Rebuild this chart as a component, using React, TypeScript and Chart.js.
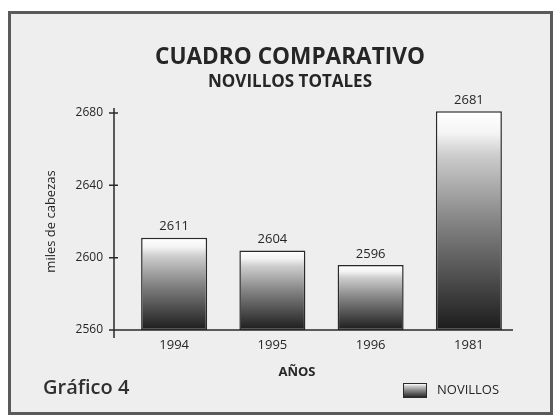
import React, { useEffect, useRef } from 'react';
import { Chart, registerables } from 'chart.js';

Chart.register(...registerables);

const categories = ['1994', '1995', '1996', '1981'];
const novillos = [2611, 2604, 2596, 2681];
const yMin = 2560;
const yMax = 2680;
const yStep = 40;
const titleText = 'CUADRO COMPARATIVO';
const subtitleText = 'NOVILLOS TOTALES';
const yAxisTitle = 'miles de cabezas';
const xAxisTitle = 'AÑOS';
const figureLabel = 'Gráfico 4';
const seriesName = 'NOVILLOS';

const FONT = '"Open Sans", sans-serif';
const INK = '#262626';

function makeGradient(ctx: CanvasRenderingContext2D, top: number, bottom: number) {
  const g = ctx.createLinearGradient(0, top, 0, bottom);
  g.addColorStop(0, '#ffffff');
  g.addColorStop(0.1, '#f4f4f4');
  g.addColorStop(0.2, '#cdcdcd');
  g.addColorStop(0.5, '#858585');
  g.addColorStop(1, '#1c1c1c');
  return g;
}

const decor = {
  id: 'decor',
  beforeDraw(chart: any) {
    const { ctx, width, height } = chart;
    ctx.save();
    ctx.fillStyle = '#ffffff';
    ctx.fillRect(0, 0, width, height);
    ctx.fillStyle = '#eeeeee';
    ctx.fillRect(9.5, 12.5, 542, 401);
    ctx.strokeStyle = '#5a5a5a';
    ctx.lineWidth = 3;
    ctx.strokeRect(9.5, 12.5, 542, 401);

    ctx.fillStyle = INK;
    ctx.textAlign = 'center';
    ctx.textBaseline = 'middle';
    ctx.font = `bold 24px ${FONT}`;
    ctx.fillText(titleText, 290, 57, 270);
    ctx.font = `bold 17px ${FONT}`;
    ctx.fillText(subtitleText, 290, 82, 166);
    ctx.font = `bold 13px ${FONT}`;
    ctx.fillText(xAxisTitle, 297, 372, 40);

    ctx.textAlign = 'left';
    ctx.font = `600 20px ${FONT}`;
    ctx.fillStyle = '#303030';
    ctx.fillText(figureLabel, 43, 388, 88);

    // legend
    ctx.fillStyle = makeGradient(ctx, 383, 398);
    ctx.fillRect(403, 383, 24, 15);
    ctx.strokeStyle = '#2a2a2a';
    ctx.lineWidth = 1;
    ctx.strokeRect(403.5, 383.5, 23, 14);
    ctx.fillStyle = INK;
    ctx.font = `13px ${FONT}`;
    ctx.fillText(seriesName, 437, 390, 67);
    ctx.restore();
  },
  afterDatasetsDraw(chart: any) {
    const { ctx } = chart;
    const y = chart.scales.y;
    const axisX = 114;
    const base = y.getPixelForValue(yMin);
    ctx.save();
    ctx.strokeStyle = '#2a2a2a';
    ctx.lineWidth = 1.5;
    ctx.beginPath();
    ctx.moveTo(axisX, y.getPixelForValue(yMax) - 5);
    ctx.lineTo(axisX, base + 8);
    ctx.moveTo(axisX - 5, base);
    ctx.lineTo(513, base);
    y.ticks.forEach((t: any) => {
      const py = y.getPixelForValue(t.value);
      ctx.moveTo(axisX - 5, py);
      ctx.lineTo(axisX + 4, py);
    });
    ctx.stroke();

    // value labels
    const meta = chart.getDatasetMeta(0);
    ctx.fillStyle = INK;
    ctx.font = `13px ${FONT}`;
    ctx.textAlign = 'center';
    ctx.textBaseline = 'middle';
    meta.data.forEach((bar: any, i: number) => {
      ctx.fillText(String(novillos[i]), bar.x, bar.y - 11);
    });
    ctx.restore();
  },
};

export default function App() {
  const ref = useRef<HTMLCanvasElement>(null);
  useEffect(() => {
    if (!ref.current) return;
    const chart = new Chart(ref.current, {
      type: 'bar',
      data: {
        labels: categories,
        datasets: [
          {
            label: seriesName,
            data: novillos,
            base: yMin,
            backgroundColor: (c: any) => {
              const ch = c.chart;
              const ys = ch.scales && ch.scales.y;
              if (!ys || c.raw == null) return '#888888';
              const top = ys.getPixelForValue(c.raw);
              const bottom = ys.getPixelForValue(yMin);
              if (!Number.isFinite(top) || !Number.isFinite(bottom) || top === bottom) return '#888888';
              return makeGradient(ch.ctx, top, bottom);
            },
            borderColor: '#2a2a2a',
            borderWidth: 1.5,
            borderSkipped: false,
            barPercentage: 0.672,
            categoryPercentage: 1,
            clip: false as any,
          } as any,
        ],
      },
      options: {
        animation: false,
        responsive: false,
        layout: { padding: { left: 0, right: 35, top: 113, bottom: 0 } },
        plugins: {
          legend: { display: false },
          tooltip: { enabled: false },
          title: { display: false },
        },
        scales: {
          x: {
            grid: { display: false, drawTicks: false },
            border: { display: false },
            ticks: { color: INK, font: { family: FONT, size: 13 }, padding: 7 },
            afterFit(s: any) {
              s.height = 89;
            },
          },
          y: {
            min: yMin,
            max: yMax,
            grid: { display: false, drawTicks: false },
            border: { display: false },
            ticks: {
              stepSize: yStep,
              color: INK,
              font: { family: FONT, size: 12 },
              padding: 22,
              callback: (v: any) => String(v),
            },
            title: {
              display: true,
              text: yAxisTitle,
              color: INK,
              font: { family: FONT, size: 13 },
              padding: { top: 43, bottom: 0 },
            },
            afterFit(s: any) {
              s.width = 125;
            },
          },
        },
      },
      plugins: [decor],
    });
    return () => chart.destroy();
  }, []);
  return (
    <div style={{ position: 'absolute', left: 0, top: 0, width: 553, height: 419 }}>
      <canvas ref={ref} width={553} height={419} style={{ display: 'block' }} />
    </div>
  );
}
